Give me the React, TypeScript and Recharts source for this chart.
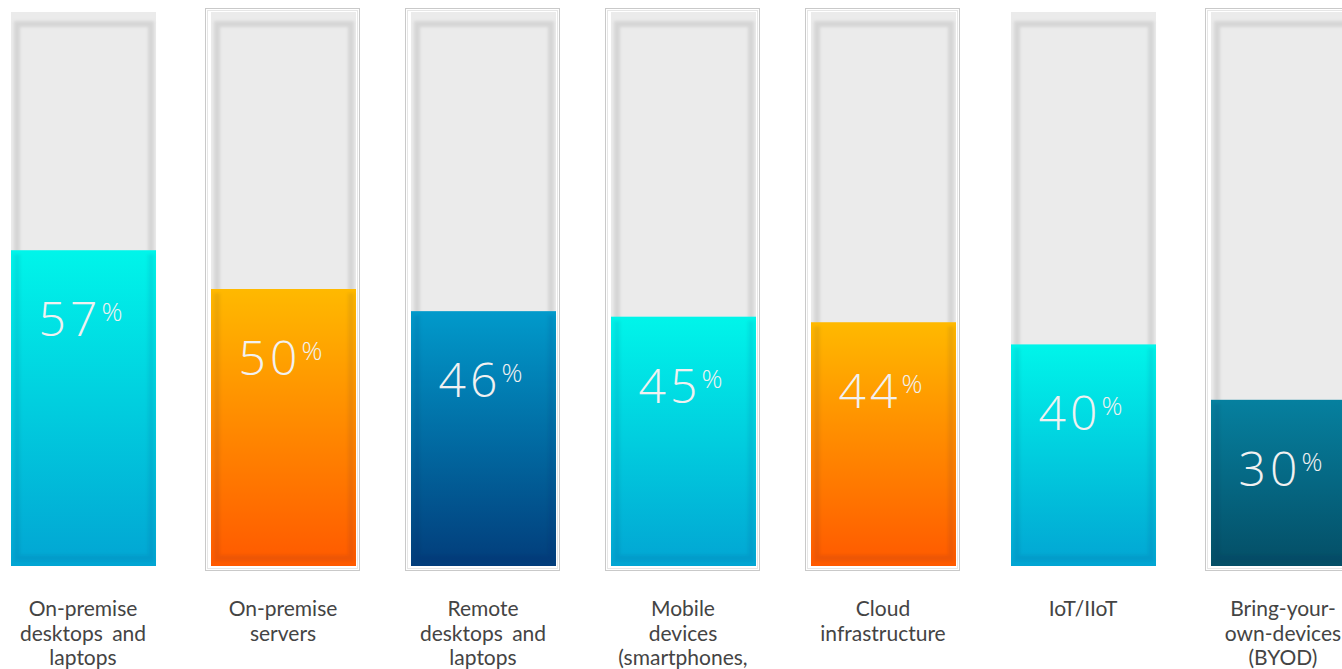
import { BarChart, Bar, XAxis, YAxis } from "recharts";

// one entry per column, split into the lines shown under each bar
const categories = [
  ["On-premise", "desktops and", "laptops"],
  ["On-premise", "servers"],
  ["Remote", "desktops and", "laptops"],
  ["Mobile", "devices", "(smartphones,", "tablets)"],
  ["Cloud", "infrastructure"],
  ["IoT/IIoT"],
  ["Bring-your-", "own-devices", "(BYOD)"],
];
const values = [57, 50, 46, 45, 44, 40, 30];
const colorKeys = ["cyan", "orange", "blue", "cyan", "orange", "cyan", "teal"];
const framed = [false, true, true, true, true, false, true];

const gradients: Record<string, [string, string]> = {
  cyan: ["#00f5ea", "#02a5d3"],
  orange: ["#ffb900", "#ff5900"],
  blue: ["#019acb", "#023d7b"],
  teal: ["#06809f", "#044e66"],
};

const data = categories.map((lines, i) => ({
  name: lines.join(" "),
  value: values[i],
}));

function Track(props: any) {
  const { x, y, width, height, index } = props;
  return (
    <g>
      {framed[index] && (
        <rect x={x - 5.5} y={y - 3.5} width={width + 9} height={height + 8} fill="#fff" stroke="#c9c9c9" />
      )}
      {framed[index] && (
        <rect x={x - 3.5} y={y - 1.5} width={width + 5} height={height + 4} fill="none" stroke="#e6e6e6" />
      )}
      <rect x={x} y={y} width={width} height={height} fill="#ebebeb" />
      <rect
        x={x + 6}
        y={y + 12}
        width={width - 11}
        height={height - 20}
        fill="none"
        stroke="#d5d5d5"
        strokeWidth={6}
        filter="url(#soft)"
      />
    </g>
  );
}

function Fill(props: any) {
  const { x, y, width, height, index, value } = props;
  const key = colorKeys[index];
  const cx = x + width / 2;
  return (
    <g>
      <rect x={x} y={y} width={width} height={height} fill={`url(#grad-${key})`} />
      <path
        d={`M${x + 6},${y + 4} L${x + 6},${y + height - 8} L${x + width - 5},${y + height - 8} L${x + width - 5},${y + 4}`}
        fill="none"
        stroke="rgba(0,30,50,0.07)"
        strokeWidth={6}
        filter="url(#soft)"
      />
      <text x={cx - 3} y={y + 86} textAnchor="middle" fill="#f1f1f1" fontFamily="'Open Sans'" fontWeight={300}>
        <tspan fontSize={48} letterSpacing={4}>{value}</tspan>
        <tspan fontSize={26} dy={-15} dx={0}>%</tspan>
      </text>
    </g>
  );
}

function CategoryTick(props: any) {
  const { x, y, index } = props;
  const lines = categories[index] || [];
  return (
    <text
      x={x}
      y={y + 42}
      textAnchor="middle"
      fill="#444444"
      fontFamily="Lato"
      fontSize={21}
      wordSpacing={4}
    >
      {lines.map((line, i) => (
        <tspan key={i} x={x} dy={i === 0 ? 0 : 24.5}>
          {line}
        </tspan>
      ))}
    </text>
  );
}

export default function App() {
  return (
    <div style={{ position: "absolute", left: 0, top: 0, width: 1342, height: 669, overflow: "hidden", background: "#fff" }}>
      <div style={{ marginLeft: -17.5 }}>
        <BarChart width={1400} height={669} data={data} margin={{ top: 12, right: 0, bottom: 0, left: 0 }}>
          <defs>
            {Object.entries(gradients).map(([k, [top, bottom]]) => (
              <linearGradient key={k} id={`grad-${k}`} x1="0" y1="0" x2="0" y2="1">
                <stop offset="0%" stopColor={top} />
                <stop offset="100%" stopColor={bottom} />
              </linearGradient>
            ))}
            <filter id="soft" x="-20%" y="-20%" width="140%" height="140%">
              <feGaussianBlur stdDeviation={1.6} />
            </filter>
          </defs>
          <XAxis
            dataKey="name"
            axisLine={false}
            tickLine={false}
            height={103}
            interval={0}
            tick={<CategoryTick />}
          />
          <YAxis hide domain={[0, 100]} />
          <Bar
            dataKey="value"
            barSize={145}
            background={(p: any) => <Track {...p} />}
            shape={(p: any) => <Fill {...p} />}
            isAnimationActive={false}
          />
        </BarChart>
      </div>
    </div>
  );
}
